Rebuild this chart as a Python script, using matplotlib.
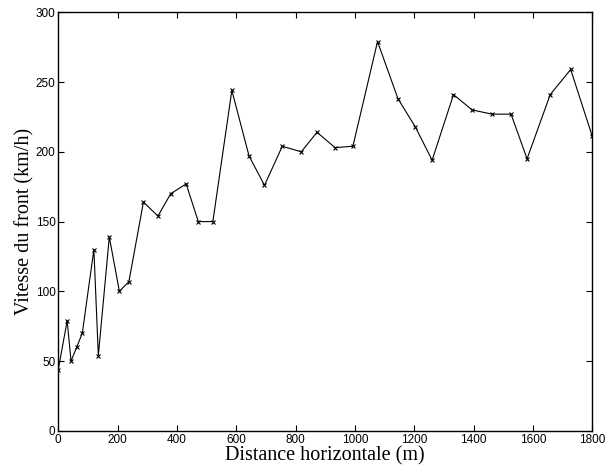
import matplotlib
matplotlib.use('Agg')
import matplotlib.pyplot as plt

# distance horizontale (m) et vitesse du front (km/h)
distance = [0, 30, 43, 62, 81, 120, 135, 172, 206, 238, 287, 336, 379, 431,
            472, 521, 585, 643, 695, 755, 819, 872, 933, 993, 1076, 1145,
            1203, 1260, 1332, 1395, 1462, 1526, 1580, 1658, 1727, 1800]
vitesse = [44, 79, 50, 60, 70, 130, 54, 139, 100, 107, 164, 154, 170, 177,
           150, 150, 244, 197, 176, 204, 200, 214, 203, 204, 279, 238,
           218, 194, 241, 230, 227, 227, 195, 241, 259, 211]

xticks = [0, 200, 400, 600, 800, 1000, 1200, 1400, 1600, 1800]
yticks = [0, 50, 100, 150, 200, 250, 300]

fig = plt.figure(figsize=(6.16, 4.72), dpi=100)
ax = fig.add_axes([0.0946, 0.087, 0.867, 0.887])

ax.plot(distance, vitesse, color='k', linewidth=0.8, marker='x',
        markersize=3.5, markeredgewidth=0.8)

ax.set_xlim(0, 1800)
ax.set_ylim(0, 300)
ax.set_xticks(xticks)
ax.set_yticks(yticks)
ax.tick_params(direction='in', top=True, right=True, length=4, width=0.8,
               labelsize=8.5, pad=2)
for lab in ax.get_xticklabels() + ax.get_yticklabels():
    lab.set_family('Liberation Sans')
for sp in ax.spines.values():
    sp.set_linewidth(1.0)

ax.set_xlabel('Distance horizontale (m)', family='Liberation Serif',
              fontsize=14.5, labelpad=0.5)
ax.set_ylabel('Vitesse du front (km/h)', family='Liberation Serif',
              fontsize=14.5, labelpad=1)

fig.savefig('out.png', dpi=100)
